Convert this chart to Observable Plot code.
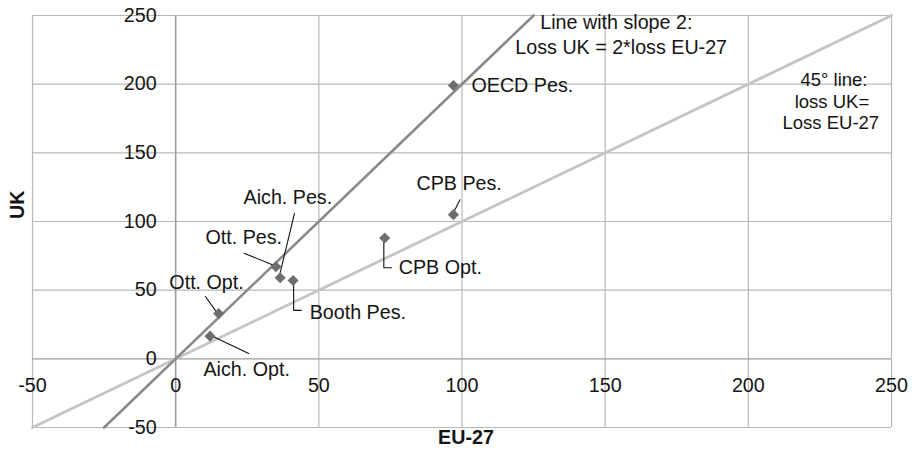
<!DOCTYPE html>
<html>
<head>
<meta charset="utf-8">
<script src="https://cdn.jsdelivr.net/npm/d3@7"></script>
<script src="https://cdn.jsdelivr.net/npm/@observablehq/plot@0.6"></script>
<style>
  html, body { margin: 0; padding: 0; background: #fff; }
</style>
</head>
<body>
<div id="chart"></div>
<script>
// Ticks
const xTicks = [-50, 0, 50, 100, 150, 200, 250];
const yTicks = [-50, 0, 50, 100, 150, 200, 250];

// Scenario points: EU-27 loss (x) vs UK loss (y)
const names = ["OECD Pes.", "CPB Pes.", "CPB Opt.", "Ott. Pes.", "Aich. Pes.", "Booth Pes.", "Ott. Opt.", "Aich. Opt."];
const euLoss = [97, 97, 73, 35, 36.5, 41, 15, 12];
const ukLoss = [199, 105, 88, 67, 59, 57, 33, 16.5];

// Reference lines
const slope2Line = [{x: -25, y: -50}, {x: 125, y: 250}];
const line45 = [{x: -50, y: -50}, {x: 250, y: 250}];

// Annotation labels (text, x, y in data units)
const labelText = ["OECD Pes.", "CPB Pes.", "CPB Opt.", "Ott. Pes.", "Aich. Pes.", "Booth Pes.", "Ott. Opt.", "Aich. Opt."];
const labelX = [103.3, 84.1, 77.9, 10.4, 23.7, 46.8, -2.2, 9.7];
const labelY = [198.9, 127.6, 66.5, 88.1, 117.2, 33.8, 55.8, -7.9];

// Leader lines (id, x, y)
const leaderId = ["ap", "ap", "op", "op", "oo", "oo", "bp", "bp", "bp", "co", "co", "co", "cp", "cp", "ao", "ao"];
const leaderX = [41.5, 36.4, 23.9, 34.4, 10.4, 14.6, 41.2, 41.2, 43.9, 72.7, 72.7, 75.4, 99.3, 97.4, 12.1, 25.5];
const leaderY = [106.0, 61.9, 76.9, 68.0, 45.4, 33.1, 54.9, 35.3, 35.3, 86.2, 66.3, 66.3, 115.8, 108.0, 17.1, 3.8];

// Line captions
const slopeCaption = ["Line with slope 2:", "Loss UK = 2*loss EU-27"];
const slopeCaptionX = [153.9, 155.6];
const slopeCaptionY = [244.9, 226.7];
const diagCaption = ["45° line:", "loss UK=", "Loss EU-27"];
const diagCaptionX = [229.9, 229.2, 228.8];
const diagCaptionY = [203.2, 186.7, 171.7];

const points = names.map((n, i) => ({name: n, x: euLoss[i], y: ukLoss[i]}));
const labels = labelText.map((t, i) => ({text: t, x: labelX[i], y: labelY[i]}));
const leaders = leaderId.map((id, i) => ({id, x: leaderX[i], y: leaderY[i]}));
const slopeLabels = slopeCaption.map((t, i) => ({text: t, x: slopeCaptionX[i], y: slopeCaptionY[i]}));
const diagLabels = diagCaption.map((t, i) => ({text: t, x: diagCaptionX[i], y: diagCaptionY[i]}));

const textColor = "#141414";

const chart = Plot.plot({
  width: 912,
  height: 454,
  marginTop: 15,
  marginBottom: 27,
  marginLeft: 32,
  marginRight: 21,
  x: {domain: [-50, 250], axis: null},
  y: {domain: [-50, 250], axis: null},
  style: {fontFamily: "'Liberation Sans', Arial, Helvetica, sans-serif", fontSize: "19.7px", background: "#fff", color: textColor},
  marks: [
    Plot.ruleX(xTicks.filter(d => d !== 0), {x: d => d, stroke: "#b8b8b8", strokeWidth: 1.2, strokeOpacity: 1}),
    Plot.ruleY(yTicks.filter(d => d !== 0), {y: d => d, stroke: "#b8b8b8", strokeWidth: 1.2, strokeOpacity: 1}),
    Plot.ruleX([0], {x: d => d, stroke: "#9c9c9c", strokeWidth: 1.6, strokeOpacity: 1}),
    Plot.ruleY([0], {y: d => d, stroke: "#9c9c9c", strokeWidth: 1.4, strokeOpacity: 1}),
    Plot.line(line45, {x: "x", y: "y", stroke: "#c4c4c4", strokeWidth: 2.8}),
    Plot.line(slope2Line, {x: "x", y: "y", stroke: "#8a8a8a", strokeWidth: 2.6}),
    Plot.line(leaders, {x: "x", y: "y", z: "id", stroke: "#111", strokeWidth: 1.1, curve: "linear"}),
    Plot.dot(points, {x: "x", y: "y", symbol: "diamond2", r: 5, fill: "#6e6e6e", stroke: "none"}),
    Plot.text(xTicks, {x: d => d, y: d => 0, text: d => String(d), dy: 26.5, fill: textColor}),
    Plot.text(yTicks, {x: d => 0, y: d => d, text: d => String(d), textAnchor: "end", dx: -19, fill: textColor}),
    Plot.text(labels, {x: "x", y: "y", text: "text", textAnchor: "start", fill: textColor}),
    Plot.text(slopeLabels, {x: "x", y: "y", text: "text", textAnchor: "middle", fill: textColor}),
    Plot.text(diagLabels, {x: "x", y: "y", text: "text", textAnchor: "middle", fontSize: 18.5, fill: textColor}),
    Plot.text(["EU-27"], {frameAnchor: "bottom", text: d => d, dy: 16, dx: 4, fontWeight: "bold", fill: textColor}),
    Plot.text(["UK"], {frameAnchor: "left", text: d => d, rotate: -90, dx: -15, dy: -2.5, fontWeight: "bold", fill: textColor})
  ]
});
document.getElementById("chart").appendChild(chart);
</script>
</body>
</html>
